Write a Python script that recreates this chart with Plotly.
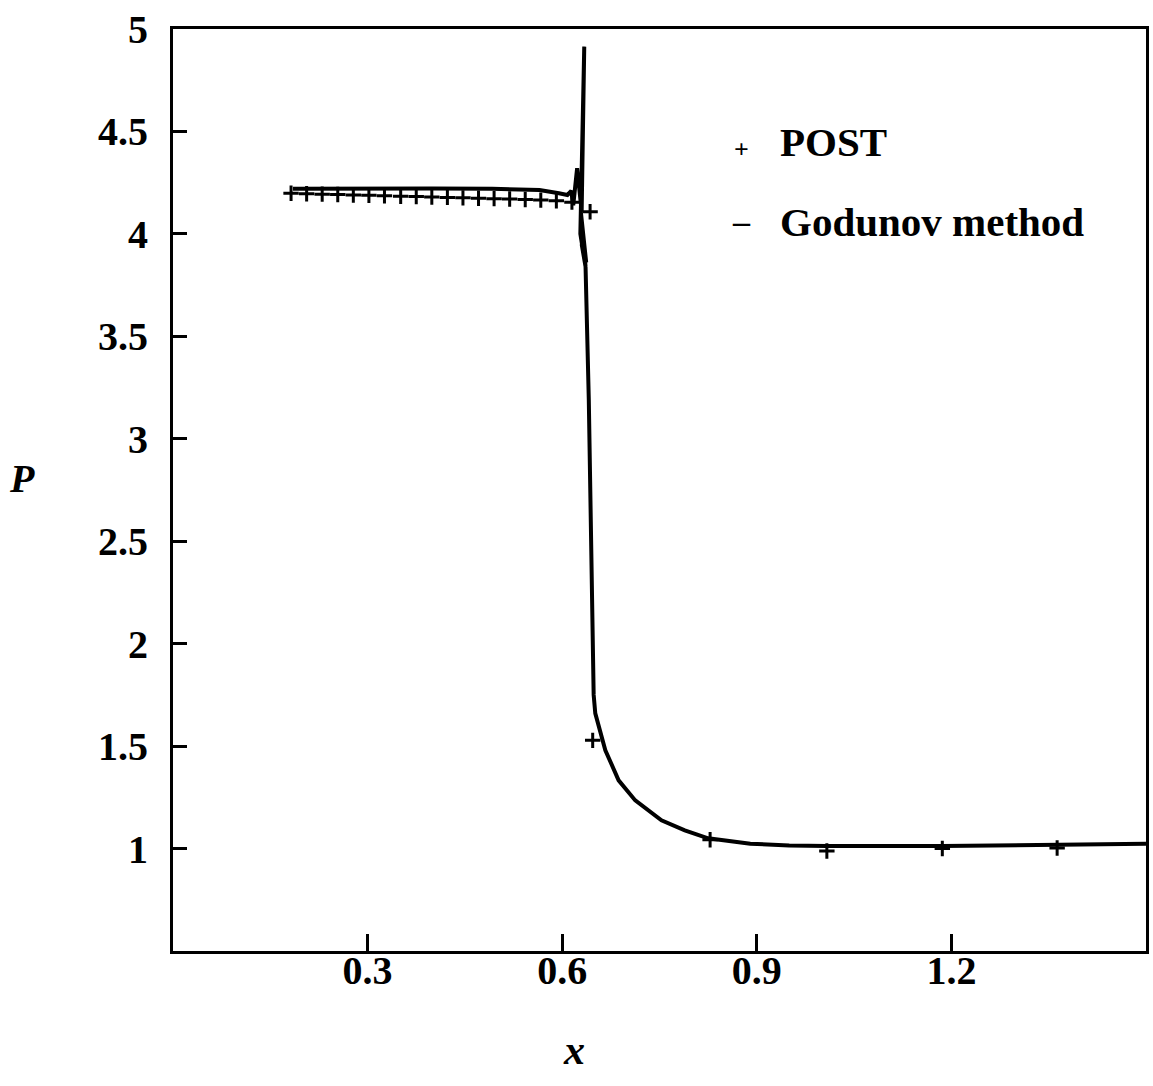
import plotly.graph_objects as go

# POST results
post_x = [0.182, 0.206, 0.230, 0.254, 0.278, 0.302, 0.326, 0.351, 0.375, 0.399,
          0.423, 0.447, 0.471, 0.495, 0.519, 0.543, 0.567, 0.591, 0.615, 0.643,
          0.647, 0.828, 1.008, 1.186, 1.363]
post_y = [4.198, 4.196, 4.194, 4.192, 4.19, 4.188, 4.186, 4.184, 4.182, 4.18,
          4.178, 4.176, 4.174, 4.172, 4.17, 4.168, 4.165, 4.162, 4.155, 4.108,
          1.528, 1.043, 0.988, 1.0, 1.003]

# Godunov method curve
god_x = [0.185, 0.30, 0.40, 0.492, 0.54, 0.565, 0.595, 0.608, 0.614, 0.617,
         0.623, 0.630, 0.634, 0.628, 0.636, 0.629, 0.637, 0.630, 0.636, 0.641,
         0.6475, 0.6485, 0.651, 0.656, 0.6665, 0.687, 0.7126, 0.753, 0.789, 0.825,
         0.890, 0.95, 1.008, 1.186, 1.363, 1.5]
god_y = [4.22, 4.222, 4.222, 4.22, 4.218, 4.214, 4.198, 4.19, 4.21, 4.14,
         4.32, 4.11, 4.914, 4.0, 3.84, 4.1, 3.86, 3.95, 3.84, 3.19,
         2.0, 1.75, 1.66, 1.60, 1.48, 1.333, 1.235, 1.138, 1.089, 1.05,
         1.024, 1.015, 1.012, 1.012, 1.019, 1.024]

x_ticks = [0.3, 0.6, 0.9, 1.2]
x_tick_text = ["0.3", "0.6", "0.9", "1.2"]
y_ticks = [1, 1.5, 2, 2.5, 3, 3.5, 4, 4.5, 5]
y_tick_text = ["1", "1.5", "2", "2.5", "3", "3.5", "4", "4.5", "5"]

serif = "Liberation Serif"

fig = go.Figure()
fig.add_trace(go.Scatter(x=god_x, y=god_y, mode="lines", name="Godunov method",
                         line=dict(color="black", width=4), showlegend=False))
fig.add_trace(go.Scatter(x=post_x, y=post_y, mode="markers", name="POST",
                         marker=dict(symbol="cross-thin", size=11, color="black",
                                     line=dict(color="black", width=3)),
                         showlegend=False))

axis_common = dict(showline=True, linecolor="black", linewidth=3, mirror=True,
                   showgrid=False, zeroline=False, ticks="inside",
                   tickcolor="black", tickwidth=2.5,
                   tickfont=dict(family=serif, size=40, color="black",
                                 weight="bold"))

fig.update_xaxes(range=[0, 1.5], tickvals=x_ticks, ticktext=x_tick_text,
                 ticklen=17, ticklabelstandoff=-18, **axis_common)
fig.update_yaxes(range=[0.5, 5], tickvals=y_ticks, ticktext=y_tick_text,
                 ticklen=14, ticklabelstandoff=14, **axis_common)

annos = [
    dict(x=0.584, y=0.869, text="<b>+</b>", font=dict(size=26)),
    dict(x=0.622, y=0.877, text="<b>POST</b>", xanchor="left"),
    dict(x=0.584, y=0.791, text="<b>\u2013</b>", font=dict(size=34)),
    dict(x=0.622, y=0.791, text="<b>Godunov method</b>", xanchor="left"),
    dict(x=-0.155, y=0.513, text="<b><i>P</i></b>", font=dict(size=40)),
    dict(x=0.412, y=-0.107, text="<b><i>x</i></b>", font=dict(size=42)),
]
for a in annos:
    a.setdefault("xanchor", "center")
    f = dict(family=serif, size=41, color="black")
    f.update(a.get("font", {}))
    a["font"] = f
    fig.add_annotation(xref="paper", yref="paper", yanchor="middle",
                       showarrow=False, **a)

fig.update_layout(width=1153, height=1086,
                  margin=dict(l=173, r=4, t=29, b=135),
                  plot_bgcolor="white", paper_bgcolor="white")

fig.write_html("out.html")
